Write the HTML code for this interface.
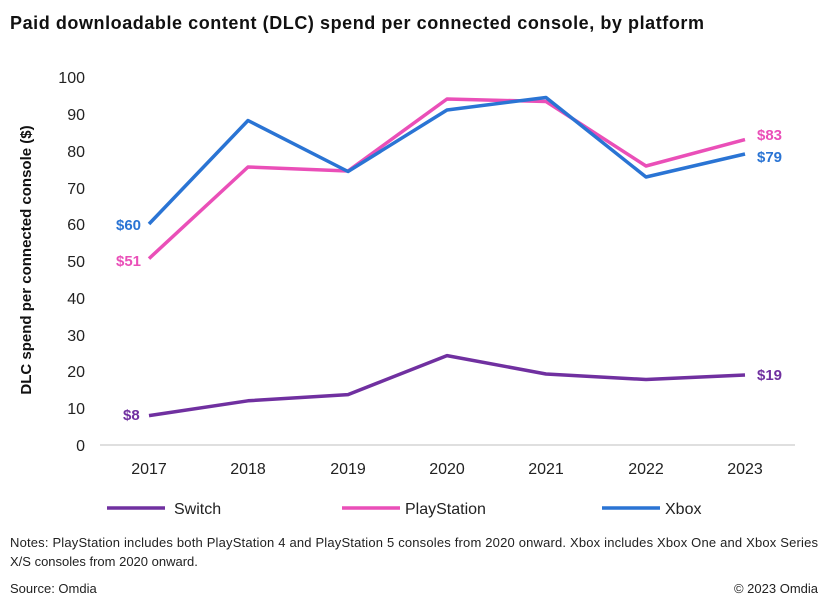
<!DOCTYPE html>
<html><head><meta charset="utf-8"><style>
body{margin:0;background:#fff;font-family:"Liberation Sans",Arial,sans-serif;}
</style></head><body>
<svg width="828" height="600" xmlns="http://www.w3.org/2000/svg" font-family="Liberation Sans, Arial, sans-serif">
<rect width="828" height="600" fill="#fff"/>
<text x="10" y="29" font-size="18" font-weight="bold" fill="#111" textLength="694" lengthAdjust="spacing">Paid downloadable content (DLC) spend per connected console, by platform</text>
<g font-size="16" fill="#222" text-anchor="end">
<text x="85" y="83">100</text><text x="85" y="120">90</text><text x="85" y="157">80</text><text x="85" y="194">70</text><text x="85" y="230">60</text><text x="85" y="267">50</text><text x="85" y="304">40</text><text x="85" y="341">30</text><text x="85" y="377">20</text><text x="85" y="414">10</text><text x="85" y="451">0</text>
</g>
<text transform="translate(31,260) rotate(-90)" font-size="15" font-weight="bold" fill="#111" text-anchor="middle">DLC spend per connected console ($)</text>
<line x1="100" y1="445" x2="795" y2="445" stroke="#bfbfbf" stroke-width="1"/>
<g font-size="16" fill="#222" text-anchor="middle">
<text x="149" y="474">2017</text><text x="248" y="474">2018</text><text x="348" y="474">2019</text><text x="447" y="474">2020</text><text x="546" y="474">2021</text><text x="646" y="474">2022</text><text x="745" y="474">2023</text>
</g>
<g fill="none" stroke-width="3.5" stroke-linejoin="round">
<polyline stroke="#ea4fb8" points="149,258.6 248,167 348,171 447,99 546,101.5 646,166 745,139.6"/>
<polyline stroke="#2a74d4" points="149,224 248,120.5 348,171.5 447,110 546,97.5 646,177 745,154"/>
<polyline stroke="#7030a0" points="149,415.6 248,400.8 348,394.6 447,355.6 546,374 646,379.5 745,375"/>
</g>
<g font-size="15" font-weight="bold">
<text x="116" y="230" fill="#2a74d4">$60</text>
<text x="116" y="266" fill="#ea4fb8">$51</text>
<text x="123" y="420" fill="#7030a0">$8</text>
<text x="757" y="140" fill="#ea4fb8">$83</text>
<text x="757" y="162" fill="#2a74d4">$79</text>
<text x="757" y="380" fill="#7030a0">$19</text>
</g>
<g stroke-width="3.5">
<line x1="107" y1="508" x2="165" y2="508" stroke="#7030a0"/>
<line x1="342" y1="508" x2="400" y2="508" stroke="#ea4fb8"/>
<line x1="602" y1="508" x2="660" y2="508" stroke="#2a74d4"/>
</g>
<g font-size="16" fill="#222">
<text x="174" y="514">Switch</text><text x="405" y="514">PlayStation</text><text x="665" y="514">Xbox</text>
</g>
<g font-size="13" fill="#222">
<text x="10" y="547" textLength="808" lengthAdjust="spacing">Notes: PlayStation includes both PlayStation 4 and PlayStation 5 consoles from 2020 onward. Xbox includes Xbox One and Xbox Series</text>
<text x="10" y="566">X/S consoles from 2020 onward.</text>
<text x="10" y="593">Source: Omdia</text>
<text x="818" y="593" text-anchor="end">© 2023 Omdia</text>
</g>
</svg>
</body></html>
